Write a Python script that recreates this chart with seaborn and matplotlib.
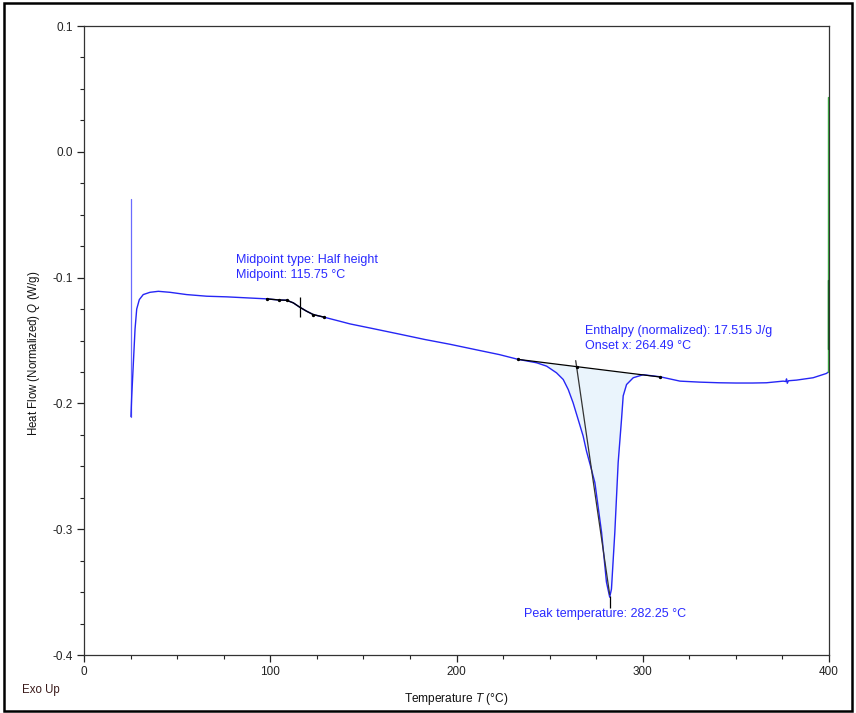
import numpy as np
import matplotlib
matplotlib.use("Agg")
import matplotlib.pyplot as plt
import seaborn as sns
from matplotlib.patches import Rectangle

# DSC curve (T in degC, Q in W/g)
temperature = [25.2, 25.6, 26.5, 27.4, 28.3, 29.7, 31.8, 35.4, 39.9, 46.2, 55.1, 65.9,
               76.6, 87.3, 98.1, 104.7, 108.8, 112.4, 115.6, 119.5, 123.1, 129.0, 137.4,
               142.8, 155.0, 169.6, 183.0, 196.5, 212.6, 223.0, 233.1, 243.0, 248.4, 253.7,
               257.3, 260.0, 262.6, 265.3, 268.0, 269.8, 272.0, 274.3, 277.9, 280.5, 282.25,
               283.2, 285.0, 286.8, 288.6, 289.5, 291.3, 294.9, 300.2, 309.2, 320.0, 330.7,
               341.0, 350.0, 359.0, 366.4, 375.4, 376.8, 377.2, 377.6, 378.2, 382.5, 391.5,
               398.6, 399.5]
heat_flow = [-0.2105, -0.195, -0.168, -0.141, -0.125, -0.1175, -0.1135, -0.1117, -0.1109,
             -0.1117, -0.1135, -0.1148, -0.1153, -0.1161, -0.1169, -0.1178, -0.1180, -0.1201,
             -0.1233, -0.1267, -0.1294, -0.1315, -0.1347, -0.1368, -0.1405, -0.145, -0.1492,
             -0.153, -0.158, -0.1612, -0.1650, -0.1677, -0.1704, -0.1757, -0.181, -0.189,
             -0.1995, -0.2127, -0.226, -0.238, -0.250, -0.263, -0.3026, -0.342, -0.354,
             -0.3476, -0.3026, -0.247, -0.2127, -0.194, -0.185, -0.1796, -0.1772, -0.1788,
             -0.1823, -0.1831, -0.1836, -0.1838, -0.1838, -0.1836, -0.1823, -0.1826, -0.1805,
             -0.1840, -0.1820, -0.1815, -0.1796, -0.1762, -0.1752]

# initial equilibration spike and the cooling segment (green)
spike_T = [25.2, 25.2]
spike_Q = [-0.0376, -0.2105]
green_T = [399.5, 399.5]
green_Q = [-0.1752, 0.0439]
green_dark_Q = [-0.157, -0.1016]

# glass transition evaluation
tg_range = [98.1, 129.0]
tg_dots = [98.1, 104.7, 108.8, 123.1, 129.0]
tg_mid = 115.75

# melting peak evaluation
base_T = [233.1, 309.2]
base_Q = [-0.1650, -0.1790]
onset_T = 264.49
tangent_T = [264.0, 282.25]
tangent_Q = [-0.166, -0.352]
peak_T = 282.25
peak_Q = -0.354

blue = "#2626f5"
txt_blue = "#2a2aff"

sns.set_style("ticks")
plt.rcParams["font.family"] = ["Liberation Sans", "DejaVu Sans"]
plt.rcParams["mathtext.fontset"] = "custom"
plt.rcParams["mathtext.it"] = "Liberation Sans:italic"
plt.rcParams["mathtext.rm"] = "Liberation Sans"

fig = plt.figure(figsize=(8.56, 7.13), dpi=100)
ax = fig.add_axes([84 / 856, 1 - 655 / 713, 745 / 856, 629 / 713])

T = np.array(temperature)
Q = np.array(heat_flow)

# peak area fill
m = (T >= base_T[0]) & (T <= base_T[1])
Tf = np.concatenate([[base_T[0]], T[m], [base_T[1]]])
Qf = np.interp(Tf, T, Q)
ax.fill_between(Tf, Qf, np.interp(Tf, base_T, base_Q), color="#eaf4fc", lw=0, zorder=1)

sns.lineplot(x=spike_T, y=spike_Q, sort=False, estimator=None, color="#6b6bff", lw=0.9, ax=ax)
sns.lineplot(x=temperature, y=heat_flow, sort=False, estimator=None, color=blue, lw=1.0, ax=ax)
sns.lineplot(x=green_T, y=green_Q, sort=False, estimator=None, color="#3cb043", lw=1.0, ax=ax)
sns.lineplot(x=green_T, y=green_dark_Q, sort=False, estimator=None, color="#0f6e1a", lw=1.0, ax=ax)

# glass transition overlay
mt = (T >= tg_range[0]) & (T <= tg_range[1])
ax.plot(T[mt], Q[mt], color="black", lw=1.0, zorder=4)
ax.plot(tg_dots, np.interp(tg_dots, T, Q), ls="none", marker="o", ms=1.4, color="black", zorder=5)
ax.plot([tg_mid], [np.interp(tg_mid, T, Q)], ls="none", marker="|", ms=14, mew=0.9,
        color="black", zorder=5)

# peak construction
ax.plot(base_T, base_Q, color="black", lw=0.9, zorder=4)
ax.plot(base_T, base_Q, ls="none", marker="o", ms=1.4, color="black", zorder=5)
ax.plot(tangent_T, tangent_Q, color="#333333", lw=0.9, zorder=4)
ax.plot([onset_T], [np.interp(onset_T, base_T, base_Q)], ls="none", marker="o", ms=1.4,
        color="black", zorder=5)
ax.plot([peak_T], [peak_Q - 0.004], ls="none", marker="|", ms=9, mew=0.9, color="black", zorder=5)

fs = 9
ax.text(81.5, -0.0921, "Midpoint type: Half height\nMidpoint: 115.75 \u00b0C", color=txt_blue,
        fontsize=fs, va="center", ha="left", linespacing=1.3)
ax.text(268.8, -0.1484, "Enthalpy (normalized): 17.515 J/g\nOnset x: 264.49 \u00b0C", color=txt_blue,
        fontsize=fs, va="center", ha="left", linespacing=1.3)
ax.text(236, -0.3675, "Peak temperature: 282.25 \u00b0C", color=txt_blue, fontsize=fs,
        va="center", ha="left")

ax.set_xlim(0, 400)
ax.set_ylim(-0.4, 0.1)
ax.set_xticks([0, 100, 200, 300, 400])
ax.set_xticks(np.arange(0, 401, 25), minor=True)
ax.set_yticks([-0.4, -0.3, -0.2, -0.1, 0.0, 0.1])
ax.set_yticks(np.arange(-0.4, 0.101, 0.025), minor=True)
ax.set_yticklabels(["-0.4", "-0.3", "-0.2", "-0.1", "0.0", "0.1"])
ax.tick_params(axis="both", which="major", direction="out", length=5, width=0.9,
               labelsize=8.5, colors="#222222", pad=3)
ax.tick_params(axis="both", which="minor", direction="out", length=3, width=0.8, colors="#222222")
for s in ax.spines.values():
    s.set_visible(True)
    s.set_color("#333333")
    s.set_linewidth(0.9)

ax.set_xlabel("Temperature $T$ (\u00b0C)", fontsize=8.6, color="#111111")
ax.set_ylabel("Heat Flow (Normalized) $Q$ (W/g)", fontsize=8.3, color="#111111")
ax.xaxis.set_label_coords(0.5, -0.0575)
ax.yaxis.set_label_coords(-0.057, 0.48)

fig.text(22 / 856, 1 - 690 / 713, "Exo Up", fontsize=8.3, color="#3a1a1a", ha="left", va="center")
fig.patches.append(Rectangle((4 / 856, 2 / 713), 848 / 856, 708 / 713, transform=fig.transFigure,
                             fill=False, ec="black", lw=1.8))

fig.savefig("out.png", dpi=100)
